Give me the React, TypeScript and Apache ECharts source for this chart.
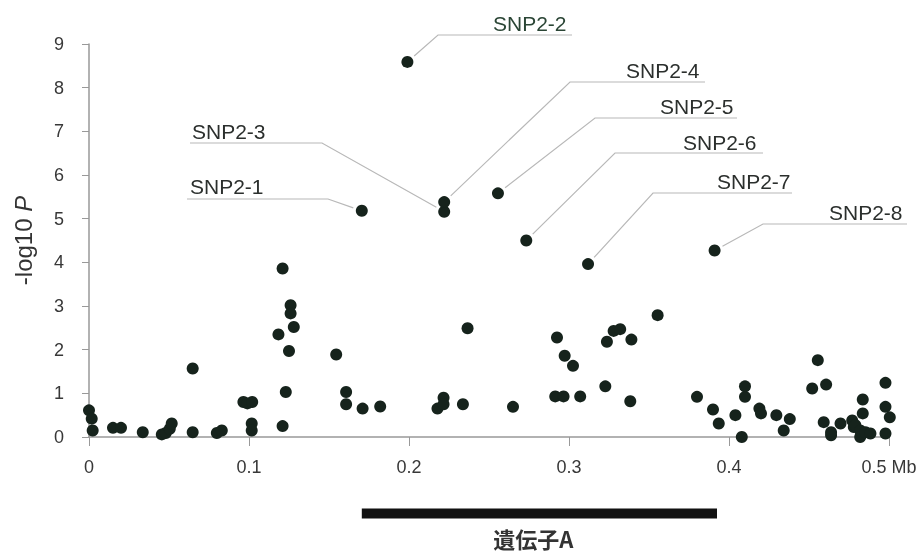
import React, { useEffect, useRef } from 'react';
import * as echarts from 'echarts';

// Position (Mb) and -log10 P of the unlabelled SNPs
const positionsMb = [
  0.0, 0.0017, 0.0023, 0.015, 0.02, 0.0336, 0.0455, 0.048, 0.0505, 0.0517,
  0.0648, 0.0648, 0.0799, 0.083, 0.0965, 0.099, 0.102, 0.1017, 0.1017, 0.1184,
  0.121, 0.121, 0.123, 0.125, 0.126, 0.126, 0.128, 0.1545, 0.1607, 0.1607,
  0.171, 0.182, 0.2178, 0.2216, 0.2216, 0.2337, 0.2366, 0.265, 0.2914, 0.2966,
  0.2925, 0.2973, 0.3025, 0.307, 0.3227, 0.3237, 0.3279, 0.332, 0.339, 0.3383,
  0.3554, 0.38, 0.39, 0.3936, 0.404, 0.408, 0.41, 0.41, 0.419, 0.42,
  0.4296, 0.438, 0.4342, 0.452, 0.4555, 0.4607, 0.4592, 0.4638, 0.4638, 0.4697,
  0.477, 0.478, 0.479, 0.4836, 0.4836, 0.482, 0.482, 0.4853, 0.4884, 0.4978,
  0.4978, 0.5005, 0.4978,
];
const logP = [
  0.61, 0.42, 0.15, 0.21, 0.21, 0.11, 0.06, 0.09, 0.19, 0.31,
  1.57, 0.11, 0.09, 0.15, 0.8, 0.77, 0.8, 0.31, 0.15, 2.35,
  3.86, 0.25, 1.03, 1.97, 3.02, 2.83, 2.52, 1.89, 1.03, 0.75,
  0.65, 0.7, 0.65, 0.9, 0.75, 0.75, 2.49, 0.69, 0.93, 0.93,
  2.28, 1.86, 1.63, 0.93, 1.16, 2.18, 2.43, 2.47, 2.23, 0.82,
  2.79, 0.92, 0.63, 0.31, 0.5, 0.0, 1.16, 0.92, 0.65, 0.54,
  0.5, 0.41, 0.15, 1.11, 1.76, 1.2, 0.34, 0.11, 0.04, 0.31,
  0.38, 0.23, 0.27, 0.86, 0.54, 0.15, 0.0, 0.11, 0.08, 1.24,
  0.69, 0.45, 0.08,
];

// Labelled SNPs
const snpNames = ['SNP2-1', 'SNP2-2', 'SNP2-3', 'SNP2-4', 'SNP2-5', 'SNP2-6', 'SNP2-7', 'SNP2-8'];
const snpPos = [0.1705, 0.199, 0.222, 0.222, 0.2556, 0.2733, 0.3119, 0.391];
const snpLogP = [5.18, 8.59, 5.16, 5.38, 5.58, 4.5, 3.96, 4.27];

const xTicks = [0, 0.1, 0.2, 0.3, 0.4, 0.5];
const xUnit = 'Mb';
const geneName = '遺伝子A';
const geneStart = 0.1705;
const geneEnd = 0.3925;
const geneRowValue = -1.75;

// Annotation layout (pixels): text left/centre, underline y, underline start, elbow x
const labelLayout = [
  { tx: 190, ty: 186, ly: 199, from: 187, elbow: 328 },
  { tx: 493, ty: 23, ly: 35, from: 572, elbow: 438 },
  { tx: 192, ty: 131, ly: 143, from: 190, elbow: 322 },
  { tx: 626, ty: 70, ly: 82, from: 705, elbow: 570 },
  { tx: 660, ty: 106, ly: 118, from: 737, elbow: 595 },
  { tx: 683, ty: 142, ly: 153, from: 763, elbow: 615 },
  { tx: 717, ty: 181, ly: 193, from: 792, elbow: 653 },
  { tx: 829, ty: 212, ly: 224, from: 907, elbow: 763 },
];

const FONT = '"Liberation Sans", Arial, sans-serif';
const DOT = '#16231c';
const AXIS = '#999999';
const TICK_TEXT = '#383838';

export default function App() {
  const ref = useRef<HTMLDivElement>(null);
  useEffect(() => {
    const chart = echarts.init(ref.current as HTMLDivElement, null, { renderer: 'svg' });
    const pts = positionsMb.map((x, i) => [x, logP[i]]);
    const named = snpPos.map((x, i) => [x, snpLogP[i]]);
    const lastTick = xTicks[xTicks.length - 1];
    chart.setOption({
      animation: false,
      grid: { left: 89, right: 32, top: 44, bottom: 116 },
      xAxis: {
        type: 'value',
        min: xTicks[0],
        max: lastTick,
        interval: 0.1,
        splitLine: { show: false },
        axisLine: { show: true, lineStyle: { color: AXIS, width: 1.5 } },
        axisTick: { show: true, length: 9, lineStyle: { color: AXIS } },
        axisLabel: {
          margin: 21,
          fontSize: 18,
          color: TICK_TEXT,
          fontFamily: FONT,
          formatter: (v: number) => {
            const s = String(parseFloat(v.toFixed(1)));
            return Math.abs(v - lastTick) < 1e-9 ? s + ' ' + xUnit : s;
          },
        },
      },
      yAxis: {
        type: 'value',
        min: 0,
        max: 9,
        interval: 1,
        splitLine: { show: false },
        axisLine: { show: true, lineStyle: { color: AXIS, width: 1.5 } },
        axisTick: { show: true, length: 7, lineStyle: { color: AXIS } },
        axisLabel: { margin: 25, fontSize: 18, color: TICK_TEXT, fontFamily: FONT },
        name: '{a|-log10 }{b|P}',
        nameLocation: 'middle',
        nameRotate: 90,
        nameGap: 54,
        nameTextStyle: {
          rich: {
            a: { fontSize: 24, color: '#333', fontFamily: FONT },
            b: { fontSize: 24, color: '#333', fontFamily: FONT, fontStyle: 'italic' },
          },
        },
      },
      series: [
        {
          type: 'line',
          data: [
            [geneStart, geneRowValue],
            [geneEnd, geneRowValue],
          ],
          symbol: 'none',
          clip: false,
          silent: true,
          lineStyle: { color: '#111', width: 10, cap: 'butt' },
          z: 1,
        },
        {
          type: 'scatter',
          data: pts,
          symbolSize: 12,
          clip: false,
          itemStyle: { color: DOT, opacity: 1 },
          z: 3,
        },
        {
          type: 'scatter',
          data: named,
          symbolSize: 12,
          clip: false,
          itemStyle: { color: DOT, opacity: 1 },
          z: 3,
        },
      ],
    });

    const graphics: any[] = [];
    snpNames.forEach((name, i) => {
      const L = labelLayout[i];
      const p = chart.convertToPixel({ gridIndex: 0 }, [snpPos[i], snpLogP[i]]) as number[];
      const dx = L.elbow - p[0];
      const dy = L.ly - p[1];
      const d = Math.hypot(dx, dy);
      const end = [p[0] + (dx / d) * 9, p[1] + (dy / d) * 9];
      graphics.push({
        type: 'polyline',
        shape: { points: [[L.from, L.ly], [L.elbow, L.ly], end] },
        style: { stroke: '#b8b8b8', lineWidth: 1.2, fill: 'none' },
        z: 1,
      });
      graphics.push({
        type: 'text',
        x: L.tx,
        y: L.ty,
        style: {
          text: name,
          fontSize: 21,
          fontFamily: FONT,
          fill: i === 1 ? '#2a4535' : '#2b2f2d',
          verticalAlign: 'middle',
          align: 'left',
        },
        z: 5,
      });
    });
    const pGene = chart.convertToPixel({ gridIndex: 0 }, [(geneStart + geneEnd) / 2, geneRowValue]) as number[];
    graphics.push({
      type: 'text',
      x: pGene[0] - 6,
      y: pGene[1] + 25,
      style: {
        text: geneName,
        fontSize: 22,
        fontWeight: 'bold',
        fontFamily: '"Noto Sans CJK JP", "Noto Sans", sans-serif',
        fill: '#333',
        verticalAlign: 'middle',
        align: 'center',
      },
    });
    chart.setOption({ graphic: graphics });
    return () => chart.dispose();
  }, []);
  return <div ref={ref} style={{ position: 'fixed', left: 0, top: 0, width: 921, height: 553 }} />;
}
